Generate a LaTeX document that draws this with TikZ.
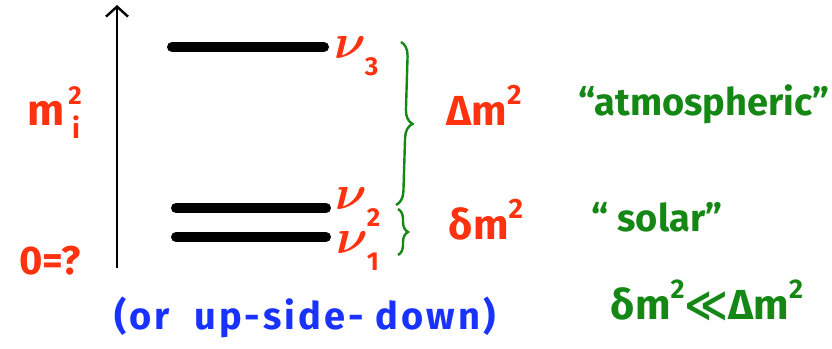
\documentclass[tikz,border=0pt]{standalone}
\usepackage{bm}
\usepackage{graphicx}
\usepackage{fontspec}
\setmainfont{Fira Sans}
\newfontfamily\symfont{DejaVu Sans}
\usetikzlibrary{decorations.pathreplacing,arrows.meta}
\definecolor{hred}{RGB}{255,50,15}
\definecolor{hgreen}{RGB}{20,135,20}
\definecolor{hblue}{RGB}{25,50,255}
\newcommand{\hsz}[1]{\fontsize{#1}{#1}\selectfont}
\newcommand{\sqr}[1]{\raisebox{0.5em}{\hsz{#1}2}}
\newcommand{\bignu}[2]{\scalebox{4.9}{$\bm{\nu}$}\kern#1pt\raisebox{-17pt}{\bfseries\hsz{26}#2}}
\tikzset{
  level/.style={line width=10pt,line cap=round},
  hand/.style={inner sep=0pt,font=\bfseries\hsz{38}},
  redlab/.style={hand,text=hred},
  greenlab/.style={hand,text=hgreen},
  nulab/.style={inner sep=0pt,text=hred,anchor=base west},
  bracestyle/.style={hgreen,line width=2.4pt,decorate,decoration={brace,amplitude=14pt}},
}
\begin{document}
\begin{tikzpicture}[x=1pt,y=-1pt]
\useasboundingbox (0,0) rectangle (832,348);
% axis
\coordinate (ax0) at (117,268);
\coordinate (ax1) at (117,5);
\draw[line width=2.4pt,-{Straight Barb[length=10pt,width=22pt,line width=2.4pt]}] (ax0) -- (ax1);
% levels
\coordinate (l3a) at (172,47); \coordinate (l3b) at (324,47);
\coordinate (l2a) at (176,208); \coordinate (l2b) at (326,208);
\coordinate (l1a) at (176,237); \coordinate (l1b) at (326,237);
\draw[level] (l3a) -- (l3b);
\draw[level] (l2a) -- (l2b);
\draw[level] (l1a) -- (l1b);
% nu labels
\node[nulab] (nu3) at (334,58) {\bignu{-1}{3}};
\node[nulab] (nu2) at (335,209) {\bignu{0}{2}};
\node[nulab] (nu1) at (336,253) {\bignu{-1}{1}};
% axis labels
\node[redlab,font=\bfseries\hsz{44}] (mi) at (46,113) {m};
\node[redlab,font=\bfseries\hsz{26}] (mi2) at (75,96) {2};
\node[redlab,font=\bfseries\hsz{28}] (mii) at (76,127) {i};
\node[redlab,font=\bfseries\hsz{40}] (zero) at (50,261) {0=?};
% braces
\coordinate (b1t) at (401,42); \coordinate (b1b) at (396,205);
\coordinate (b2t) at (398,209); \coordinate (b2b) at (398,255);
\draw[bracestyle] (b1t) -- (b1b);
\draw[bracestyle,decoration={brace,amplitude=10pt}] (b2t) -- (b2b);
% splittings
\node[redlab,font=\bfseries\hsz{42}] (Dm) at (484,105) {Δm\sqr{28}};
\node[redlab,font=\bfseries\hsz{42}] (dm) at (486,220) {δm\sqr{28}};
\node[greenlab] (atm) at (704,104) {“atmospheric”};
\node[greenlab] (sol) at (657,217) {“ solar”};
\node[greenlab,font=\bfseries\hsz{42}] (rel) at (707,300) {δm\sqr{27}{\symfont\bfseries ≪}Δm\sqr{27}};
\node[hand,text=hblue,font=\bfseries\hsz{38}\addfontfeatures{LetterSpace=8}] (ud) at (305,317) {(or\ \ up-side-\ down)};
\end{tikzpicture}
\end{document}
